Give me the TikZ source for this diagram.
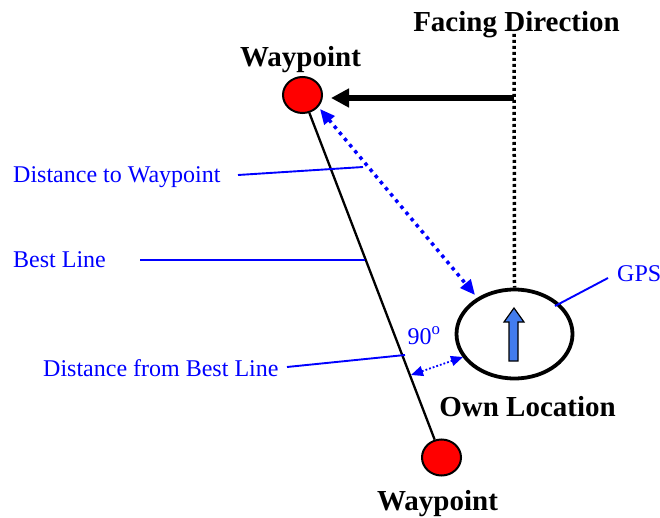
\documentclass[tikz,border=0pt]{standalone}
\usepackage{fontspec}
\setmainfont{Liberation Serif}
\usetikzlibrary{arrows.meta,shapes.geometric}
\definecolor{wpred}{RGB}{255,0,0}
\definecolor{lblue}{RGB}{0,0,255}
\definecolor{gpsfill}{RGB}{66,124,238}
\tikzset{
  blk/.style={font=\fontsize{29}{30}\selectfont\bfseries, inner sep=0pt, anchor=base},
  blu/.style={font=\fontsize{24}{26}\selectfont, text=lblue, inner sep=0pt, anchor=base west},
  wpt/.style={ellipse, draw=black, line width=2pt, fill=wpred, minimum width=39pt, minimum height=36pt, inner sep=0pt},
  ownloc/.style={ellipse, draw=black, line width=3.8pt, minimum width=116pt, minimum height=89pt, inner sep=0pt},
  leader/.style={draw=lblue, line width=1.9pt},
  bestline/.style={draw=black, line width=2.3pt},
}
\begin{document}
\begin{tikzpicture}[x=1pt,y=-1pt]
\useasboundingbox (0,0) rectangle (660,518);
% nodes
\node[wpt] (wp1) at (302.5,95) {};
\node[wpt] (wp2) at (441.5,457.5) {};
\node[ownloc] (own) at (514.5,334) {};
\node[blk] (lwp1) at (300.5,67) {Waypoint};
\node[blk] (lwp2) at (437.5,510) {Waypoint};
\node[blk] (lfd) at (516.5,32) {Facing Direction};
\node[blk] (lown) at (527.5,416) {Own Location};
\node[blu] (ldtw) at (13,183) {Distance to Waypoint};
\node[blu] (lbest) at (13,267) {Best Line};
\node[blu] (ldfb) at (43,376) {Distance from Best Line};
\node[blu] (lgps) at (617,281) {GPS};
\node[blu, anchor=base] (l90) at (424,344) {90\textsuperscript{o}};
% coordinates
\coordinate (fdtop) at (514,34);
\coordinate (fdmid) at (514,98);
\coordinate (fdtip) at (331,98);
\coordinate (dtwA) at (320,109);
\coordinate (dtwB) at (475,295);
\coordinate (dfbA) at (411,375);
\coordinate (dfbB) at (463,357);
\coordinate (ldtwS) at (238,175);
\coordinate (ldtwE) at (363,167);
\coordinate (lbestS) at (140,260);
\coordinate (lbestE) at (365,260);
\coordinate (ldfbS) at (287,367);
\coordinate (ldfbE) at (405,355);
\coordinate (lgpsS) at (608,278);
\coordinate (lgpsE) at (555,306);
% best line
\draw[bestline] (wp1) -- (wp2);
% facing direction
\draw[black, line width=3.5pt, dash pattern=on 3pt off 3pt] (fdtop) -- (own.north);
\draw[black, line width=6pt, -{Triangle[length=18pt,width=18pt]}] (fdmid) -- (fdtip);
% distance arrows
\draw[lblue, line width=3.5pt, dash pattern=on 3.5pt off 4.5pt, {Triangle[length=15pt,width=13pt]}-{Triangle[length=15pt,width=13pt]}] (dtwA) -- (dtwB);
\draw[lblue, line width=1.8pt, dash pattern=on 1.8pt off 2pt, {Triangle[length=12pt,width=10pt]}-{Triangle[length=12pt,width=10pt]}] (dfbA) -- (dfbB);
% leaders
\draw[leader] (ldtwS) -- (ldtwE);
\draw[leader] (lbestS) -- (lbestE);
\draw[leader] (ldfbS) -- (ldfbE);
\draw[leader] (lgpsS) -- (lgpsE);
% gps arrow
\draw[black, line width=1.2pt, fill=gpsfill, line join=miter]
  (509,361) -- (518,361) -- (518,322) -- (524,322) -- (514,308) -- (504,322) -- (509,322) -- cycle;
\end{tikzpicture}
\end{document}
